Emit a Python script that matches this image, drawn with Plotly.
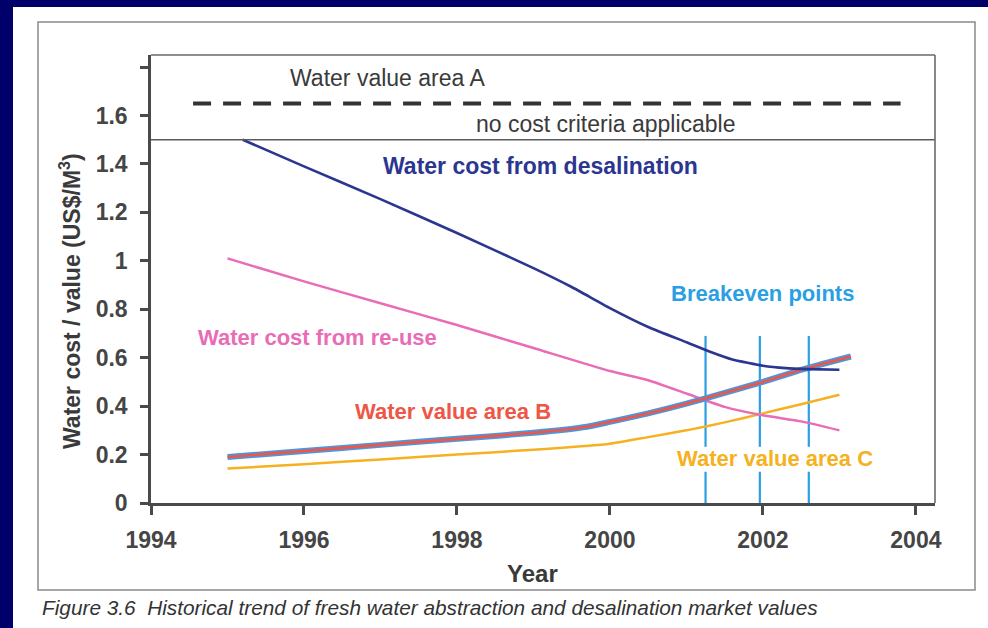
import plotly.graph_objects as go

# ---------------- data ----------------
years_desal = [1995.2, 1996, 1997, 1998, 1999, 1999.5, 2000, 2000.5, 2001, 2001.3, 2001.6, 2002, 2002.3, 2002.6, 2003]
cost_desal = [1.50, 1.39, 1.255, 1.115, 0.97, 0.892, 0.805, 0.727, 0.664, 0.626, 0.593, 0.567, 0.557, 0.553, 0.550]

years_reuse = [1995, 1996, 1997, 1998, 1999, 2000, 2000.5, 2001, 2001.5, 2002, 2002.5, 2003]
cost_reuse = [1.01, 0.915, 0.825, 0.735, 0.64, 0.545, 0.507, 0.452, 0.397, 0.362, 0.337, 0.30]

years_b = [1995, 1996, 1997, 1998, 1999, 1999.7, 2000, 2000.5, 2001, 2001.5, 2002, 2002.5, 2003.15]
value_b = [0.19, 0.215, 0.24, 0.265, 0.29, 0.315, 0.335, 0.37, 0.41, 0.455, 0.50, 0.55, 0.605]

years_c = [1995, 1996, 1997, 1998, 1999, 2000, 2000.5, 2001, 2001.5, 2002, 2002.5, 2003]
value_c = [0.142, 0.16, 0.18, 0.20, 0.22, 0.245, 0.272, 0.30, 0.333, 0.37, 0.408, 0.447]

breakeven_years = [2001.25, 2001.96, 2002.6]
breakeven_top = 0.69
breakeven_gap = [0.232, 0.129]

area_a_level = 1.65
area_a_span = [1994.55, 2003.8]
criteria_boundary = 1.5

x_ticks = [1994, 1996, 1998, 2000, 2002, 2004]
y_ticks = [0, 0.2, 0.4, 0.6, 0.8, 1.0, 1.2, 1.4, 1.6]
y_ticktext = ["0", "0.2", "0.4", "0.6", "0.8", "1", "1.2", "1.4", "1.6"]
y_unlabelled_ticks = [1.8]

# ---------------- styling ----------------
NAVY_BG = "#00006a"
DESAL = "#2b3690"
REUSE = "#e96cb6"
B_BLUE = "#4f95dc"
B_RED = "#ee5646"
C_ORANGE = "#f5b120"
BREAK = "#2a9fe3"
TXT = "#3a3a3a"
FONT = "Liberation Sans, Arial, sans-serif"

W, H = 988, 628
L, R, T, B = 151, 935, 55, 503  # plot area pixels


def px(xp):
    return (xp - L) / (R - L)


def py(yp):
    return (B - yp) / (B - T)


fig = go.Figure()

# breakeven vertical lines (with gap for label)
bx, by = [], []
for yr in breakeven_years:
    bx += [yr, yr, None, yr, yr, None]
    by += [breakeven_top, breakeven_gap[0], None, breakeven_gap[1], 0, None]
fig.add_trace(go.Scatter(x=bx, y=by, mode="lines", line=dict(color=BREAK, width=2.2),
                         hoverinfo="skip", showlegend=False))

fig.add_trace(go.Scatter(x=years_c, y=value_c, mode="lines",
                         line=dict(color=C_ORANGE, width=2.5, shape="spline", smoothing=0.5),
                         showlegend=False))
fig.add_trace(go.Scatter(x=years_reuse, y=cost_reuse, mode="lines",
                         line=dict(color=REUSE, width=2.5, shape="spline", smoothing=0.5),
                         showlegend=False))
fig.add_trace(go.Scatter(x=years_b, y=value_b, mode="lines",
                         line=dict(color=B_BLUE, width=6, shape="spline", smoothing=0.5),
                         showlegend=False))
fig.add_trace(go.Scatter(x=years_b, y=value_b, mode="lines",
                         line=dict(color=B_RED, width=2.6, shape="spline", smoothing=0.5),
                         showlegend=False))
fig.add_trace(go.Scatter(x=years_desal, y=cost_desal, mode="lines",
                         line=dict(color=DESAL, width=2.6, shape="spline", smoothing=0.4),
                         showlegend=False))
# area A dashed line
fig.add_trace(go.Scatter(x=area_a_span, y=[area_a_level, area_a_level], mode="lines",
                         line=dict(color="#333333", width=4, dash="18px,12px"),
                         showlegend=False))

shapes = [
    # white panel
    dict(type="rect", xref="paper", yref="paper", x0=px(13), x1=px(W + 5), y0=py(7), y1=py(H + 5),
         fillcolor="white", line=dict(width=0), layer="below"),
    # outer grey box
    dict(type="rect", xref="paper", yref="paper", x0=px(38), x1=px(975), y0=py(22), y1=py(590),
         fillcolor="rgba(0,0,0,0)", line=dict(color="#8a8a8a", width=1.5), layer="below"),
    # boundary at 1.5
    dict(type="line", xref="paper", yref="y", x0=0, x1=1, y0=criteria_boundary, y1=criteria_boundary,
         line=dict(color="#5a5a5a", width=1.6)),
    # top and right frame
    dict(type="line", xref="paper", yref="paper", x0=0, x1=1, y0=1, y1=1,
         line=dict(color="#6a6a6a", width=1.6)),
    dict(type="line", xref="paper", yref="paper", x0=1, x1=1, y0=0, y1=1,
         line=dict(color="#6a6a6a", width=1.6)),
]

ann = [
    dict(x=1997.09, y=1.756, text="Water value area A", font=dict(size=23, color=TXT)),
    dict(x=1999.95, y=1.566, text="no cost criteria applicable", font=dict(size=23, color=TXT)),
    dict(x=1999.09, y=1.393, text="<b>Water cost from desalination</b>", font=dict(size=23, color=DESAL)),
    dict(x=2001.99, y=0.864, text="<b>Breakeven points</b>", font=dict(size=22, color=BREAK)),
    dict(x=1996.18, y=0.683, text="<b>Water cost from re-use</b>", font=dict(size=22, color=REUSE)),
    dict(x=1997.95, y=0.377, text="<b>Water value area B</b>", font=dict(size=22, color=B_RED)),
    dict(x=2002.16, y=0.185, text="<b>Water value area C</b>", font=dict(size=22, color=C_ORANGE)),
]
annotations = []
for a in ann:
    a.update(xref="x", yref="y", showarrow=False, xanchor="center", yanchor="middle")
    a["font"]["family"] = FONT
    annotations.append(a)

annotations += [
    dict(xref="paper", yref="paper", x=px(70), y=py(301), text="<b>Water cost / value (US$/M<sup>3</sup>)</b>",
         textangle=-90, showarrow=False, xanchor="center", yanchor="middle",
         font=dict(family=FONT, size=23, color=TXT)),
    dict(xref="paper", yref="paper", x=px(532), y=py(573), text="<b>Year</b>",
         showarrow=False, xanchor="center", yanchor="middle",
         font=dict(family=FONT, size=24, color=TXT)),
    dict(xref="paper", yref="paper", x=px(40), y=py(607),
         text="<i>Figure 3.6  Historical trend of fresh water abstraction and desalination market values</i>",
         showarrow=False, xanchor="left", yanchor="middle",
         font=dict(family=FONT, size=20.8, color="#333333")),
]

fig.update_layout(
    width=W, height=H,
    margin=dict(l=L, r=W - R, t=T, b=H - B),
    paper_bgcolor=NAVY_BG,
    plot_bgcolor="white",
    shapes=shapes,
    annotations=annotations,
    showlegend=False,
    xaxis=dict(range=[1994, 2004.25], tickvals=x_ticks, ticktext=[str(v) for v in x_ticks],
               showgrid=False, zeroline=False, showline=True, linecolor="#4a4a4a", linewidth=2.5,
               ticks="outside", ticklen=9, tickwidth=2.5, tickcolor="#4a4a4a",
               tickfont=dict(family=FONT, size=23, color="#454545", weight="bold"),
               ticklabelstandoff=6),
    yaxis=dict(range=[0, 1.85], tickvals=y_ticks, ticktext=y_ticktext,
               showgrid=False, zeroline=False, showline=True, linecolor="#4a4a4a", linewidth=2.5,
               ticks="outside", ticklen=8, tickwidth=2.5, tickcolor="#4a4a4a",
               tickfont=dict(family=FONT, size=23, color="#454545", weight="bold"),
               ticklabelstandoff=8,
               minor=dict(tickvals=y_unlabelled_ticks, ticks="outside", ticklen=8, tickwidth=2.5,
                          tickcolor="#4a4a4a", showgrid=False)),
)

fig.write_html(
    "out.html",
    config={"displayModeBar": False},
    post_script="document.body.style.margin='0';document.body.style.background='" + NAVY_BG + "';",
)
